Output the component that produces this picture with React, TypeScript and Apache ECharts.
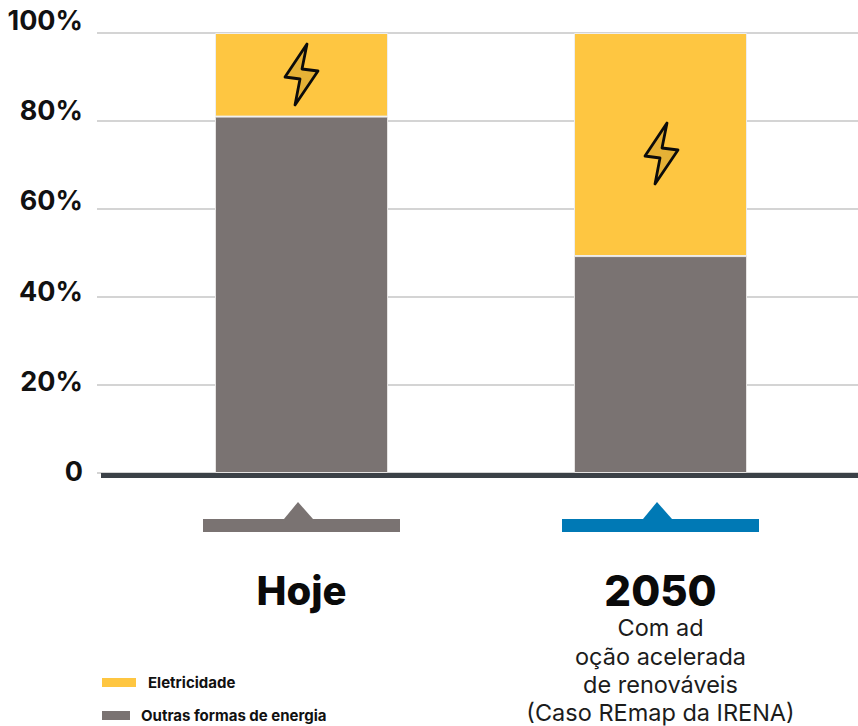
import React, { useEffect, useRef } from "react";
import * as echarts from "echarts";

const categories = ["Hoje", "2050"];
const subtitle2050 = ["Com ad", "oção acelerada", "de renováveis", "(Caso REmap da IRENA)"];
const outrasFormas = [81, 49.3];
const eletricidade = [19, 50.7];
const FONT = "Inter, 'Open Sans', sans-serif";

const bolt = (dx: number, dy: number) => ({
  type: "polygon",
  x: dx,
  y: dy,
  shape: { points: [[307, 44], [285, 77], [300, 79], [295, 105], [318, 71], [302, 69]] },
  style: { fill: "#e5b136", stroke: "#0b0b0b", lineWidth: 2.8, lineJoin: "round" },
  z: 20,
});

const marker = (dx: number, color: string) => ({
  type: "group",
  x: dx,
  z: 20,
  children: [
    { type: "rect", shape: { x: 203, y: 519, width: 197, height: 13 }, style: { fill: color } },
    { type: "polygon", shape: { points: [[284, 519], [298, 502], [313, 519]] }, style: { fill: color } },
  ],
});

export default function App() {
  const ref = useRef<HTMLDivElement>(null);
  useEffect(() => {
    const chart = echarts.init(ref.current!, undefined, { renderer: "svg" });
    const hiddenX = { type: "category", data: [""], axisLine: { show: false }, axisTick: { show: false }, axisLabel: { show: false } };
    chart.setOption({
      animation: false,
      backgroundColor: "#ffffff",
      grid: [
        { left: 97, right: 0, top: 33, height: 440 },
        { left: 122, width: 718, top: 33, height: 440 },
        { left: 97, right: 0, top: 20.5, height: 451 },
      ],
      xAxis: [
        { ...hiddenX, gridIndex: 0 },
        {
          gridIndex: 1,
          type: "category",
          data: categories,
          axisLine: { show: false },
          axisTick: { show: false },
          axisLabel: {
            margin: 95,
            interval: 0,
            verticalAlign: "top",
            formatter: (v: string) =>
              v === "2050"
                ? [`{title|${v}}`, ...subtitle2050.map((s, i) => `{${i === 0 ? "first" : "sub"}|${s}}`)].join("\n")
                : `{hoje|${v}}`,
            rich: {
              hoje: { fontFamily: FONT, fontWeight: 800, fontSize: 40, lineHeight: 44, color: "#0a0a0a", align: "center" },
              title: { fontFamily: FONT, fontWeight: 800, fontSize: 42, lineHeight: 44, color: "#0a0a0a", align: "center" },
              first: { fontFamily: FONT, fontWeight: 400, fontSize: 23.5, lineHeight: 31, color: "#1c1c1c", align: "center" },
              sub: { fontFamily: FONT, fontWeight: 400, fontSize: 23.5, lineHeight: 27.6, color: "#1c1c1c", align: "center" },
            },
          },
        },
        { ...hiddenX, gridIndex: 2 },
      ],
      yAxis: [
        {
          gridIndex: 0,
          type: "value",
          min: 0,
          max: 100,
          interval: 20,
          axisLine: { show: false },
          axisTick: { show: false },
          axisLabel: { show: false },
          splitLine: { lineStyle: { color: "#d4d4d4", width: 2 } },
        },
        { gridIndex: 1, type: "value", min: 0, max: 100, interval: 20, show: false, splitLine: { show: false } },
        {
          gridIndex: 2,
          type: "value",
          min: 0,
          max: 100,
          interval: 20,
          axisLine: { show: false },
          axisTick: { show: false },
          splitLine: { show: false },
          axisLabel: {
            margin: 14,
            fontFamily: FONT,
            fontWeight: 700,
            fontSize: 27,
            color: "#111111",
            formatter: (v: number) => (v === 0 ? "0" : `${v}%`),
          },
        },
      ],
      legend: [
        {
          data: ["Eletricidade"],
          left: 97,
          top: 670,
          itemWidth: 34,
          itemHeight: 9,
          icon: "rect",
          itemStyle: { borderWidth: 0 },
          textStyle: { fontFamily: FONT, fontWeight: 700, fontSize: 15, color: "#111111", padding: [0, 0, 0, 7] },
        },
        {
          data: ["Outras formas de energia"],
          left: 97,
          top: 703,
          itemWidth: 28,
          itemHeight: 9,
          icon: "rect",
          itemStyle: { borderWidth: 0 },
          textStyle: { fontFamily: FONT, fontWeight: 700, fontSize: 15, color: "#111111", padding: [0, 0, 0, 6] },
        },
      ],
      series: [
        {
          name: "Outras formas de energia",
          type: "bar",
          xAxisIndex: 1,
          yAxisIndex: 1,
          stack: "total",
          barWidth: 173,
          data: outrasFormas,
          itemStyle: { color: "#7a7372", borderColor: "#e6e4e3", borderWidth: 1 },
        },
        {
          name: "Eletricidade",
          type: "bar",
          xAxisIndex: 1,
          yAxisIndex: 1,
          stack: "total",
          barWidth: 173,
          data: eletricidade,
          itemStyle: { color: "#fec641", borderColor: "#eeeeee", borderWidth: 1 },
        },
      ],
      graphic: [
        { type: "rect", shape: { x: 101, y: 473, width: 757, height: 5 }, style: { fill: "#3b4147" }, z: 20 },
        marker(0, "#7a7372"),
        marker(359, "#0079b5"),
        bolt(0, 0),
        bolt(360, 79),
      ],
    });
    return () => chart.dispose();
  }, []);
  return <div ref={ref} style={{ position: "absolute", left: 0, top: 0, width: 858, height: 726 }} />;
}
